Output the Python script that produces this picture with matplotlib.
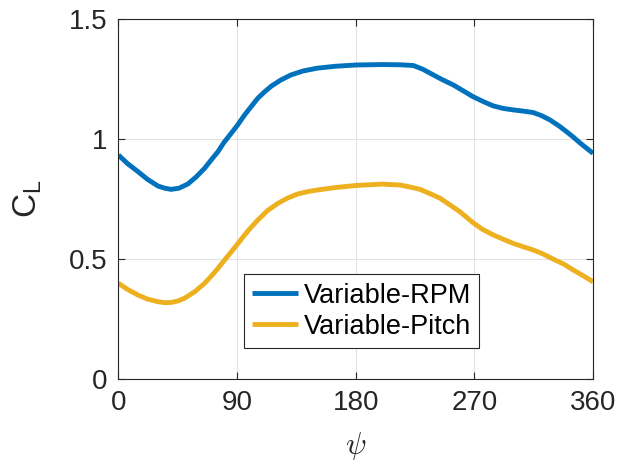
import matplotlib.pyplot as plt
import numpy as np

plt.rcParams['font.family'] = ['Liberation Sans', 'DejaVu Sans']
plt.rcParams['mathtext.fontset'] = 'cm'

# azimuth angle (deg) and lift coefficient
psi_rpm = [0, 7, 14.8, 22, 30, 35, 40, 46, 52.7, 59, 65.4, 70, 75.5, 80, 85.6, 90, 95.7,
           100, 105.8, 111, 116, 123, 131, 140, 151, 165, 180, 200, 213.6, 223.7, 231,
           238.8, 246, 254, 262, 269, 277, 284.4, 292, 299.5, 307, 314.7, 321, 327.4,
           334, 340, 345, 350, 355, 360]
cl_rpm = [0.933, 0.897, 0.864, 0.832, 0.804, 0.795, 0.790, 0.795, 0.8125, 0.842, 0.878,
          0.91, 0.947, 0.985, 1.024, 1.055, 1.1, 1.13, 1.17, 1.197, 1.22, 1.245, 1.267,
          1.283, 1.295, 1.303, 1.308, 1.31, 1.309, 1.306, 1.29, 1.267, 1.246, 1.225,
          1.199, 1.176, 1.155, 1.1375, 1.127, 1.121, 1.116, 1.11, 1.097, 1.079, 1.055,
          1.03, 1.008, 0.984, 0.962, 0.94]

psi_pitch = [0, 7, 14.8, 22, 30, 35, 40, 45, 50, 58, 65.4, 70, 75.5, 80, 85.6, 90, 95.7,
             100, 105.8, 113, 121, 128, 136, 144, 151, 165, 180, 200, 213.6, 221, 228.8,
             236, 244, 251, 259, 269, 276, 284.4, 292, 299.5, 307, 314.7, 322, 330, 338,
             345, 352, 360]
cl_pitch = [0.399, 0.373, 0.35, 0.333, 0.322, 0.318, 0.319, 0.325, 0.336, 0.364, 0.399,
            0.426, 0.461, 0.492, 0.53, 0.56, 0.6, 0.628, 0.6625, 0.701, 0.732, 0.753,
            0.771, 0.781, 0.7875, 0.798, 0.806, 0.812, 0.808, 0.8, 0.79, 0.773, 0.753,
            0.727, 0.697, 0.651, 0.624, 0.6, 0.582, 0.565, 0.551, 0.5375, 0.521, 0.499,
            0.478, 0.454, 0.432, 0.405]

xticks = [0, 90, 180, 270, 360]
yticks = [0, 0.5, 1, 1.5]

fig = plt.figure(figsize=(6.2, 4.73), dpi=100)
ax = fig.add_axes([0.191, 0.1987, 0.7655, 0.7613])

ax.plot(psi_rpm, cl_rpm, color='#0072BD', lw=3.5, label='Variable-RPM', solid_capstyle='butt')
ax.plot(psi_pitch, cl_pitch, color='#EDB120', lw=3.5, label='Variable-Pitch', solid_capstyle='butt')

ax.set_xlim(0, 360)
ax.set_ylim(0, 1.5)
ax.set_xticks(xticks)
ax.set_yticks(yticks)
ax.set_yticklabels(['0', '0.5', '1', '1.5'])
ax.tick_params(direction='in', length=5, width=0.8, labelsize=20, colors='#262626',
               top=True, right=True, pad=8)
ax.grid(True, color='#e3e3e3', lw=0.8)
ax.set_axisbelow(True)
for s in ax.spines.values():
    s.set_color('#262626')
    s.set_linewidth(0.8)

ax.set_ylabel(r'$\mathregular{C_L}$', fontsize=24, color='#262626', labelpad=18)
ax.set_xlabel(r'$\psi$', fontsize=22, color='#262626', labelpad=10)

leg = ax.legend(loc='lower left', bbox_to_anchor=(0.2645, 0.086), fontsize=19.5,
                frameon=True, fancybox=False, edgecolor='#262626', framealpha=1,
                handlelength=1.7, handletextpad=0.2, borderpad=0.3, labelspacing=0.2,
                borderaxespad=0)
leg.get_frame().set_linewidth(0.8)

fig.savefig('out.png', dpi=100)
